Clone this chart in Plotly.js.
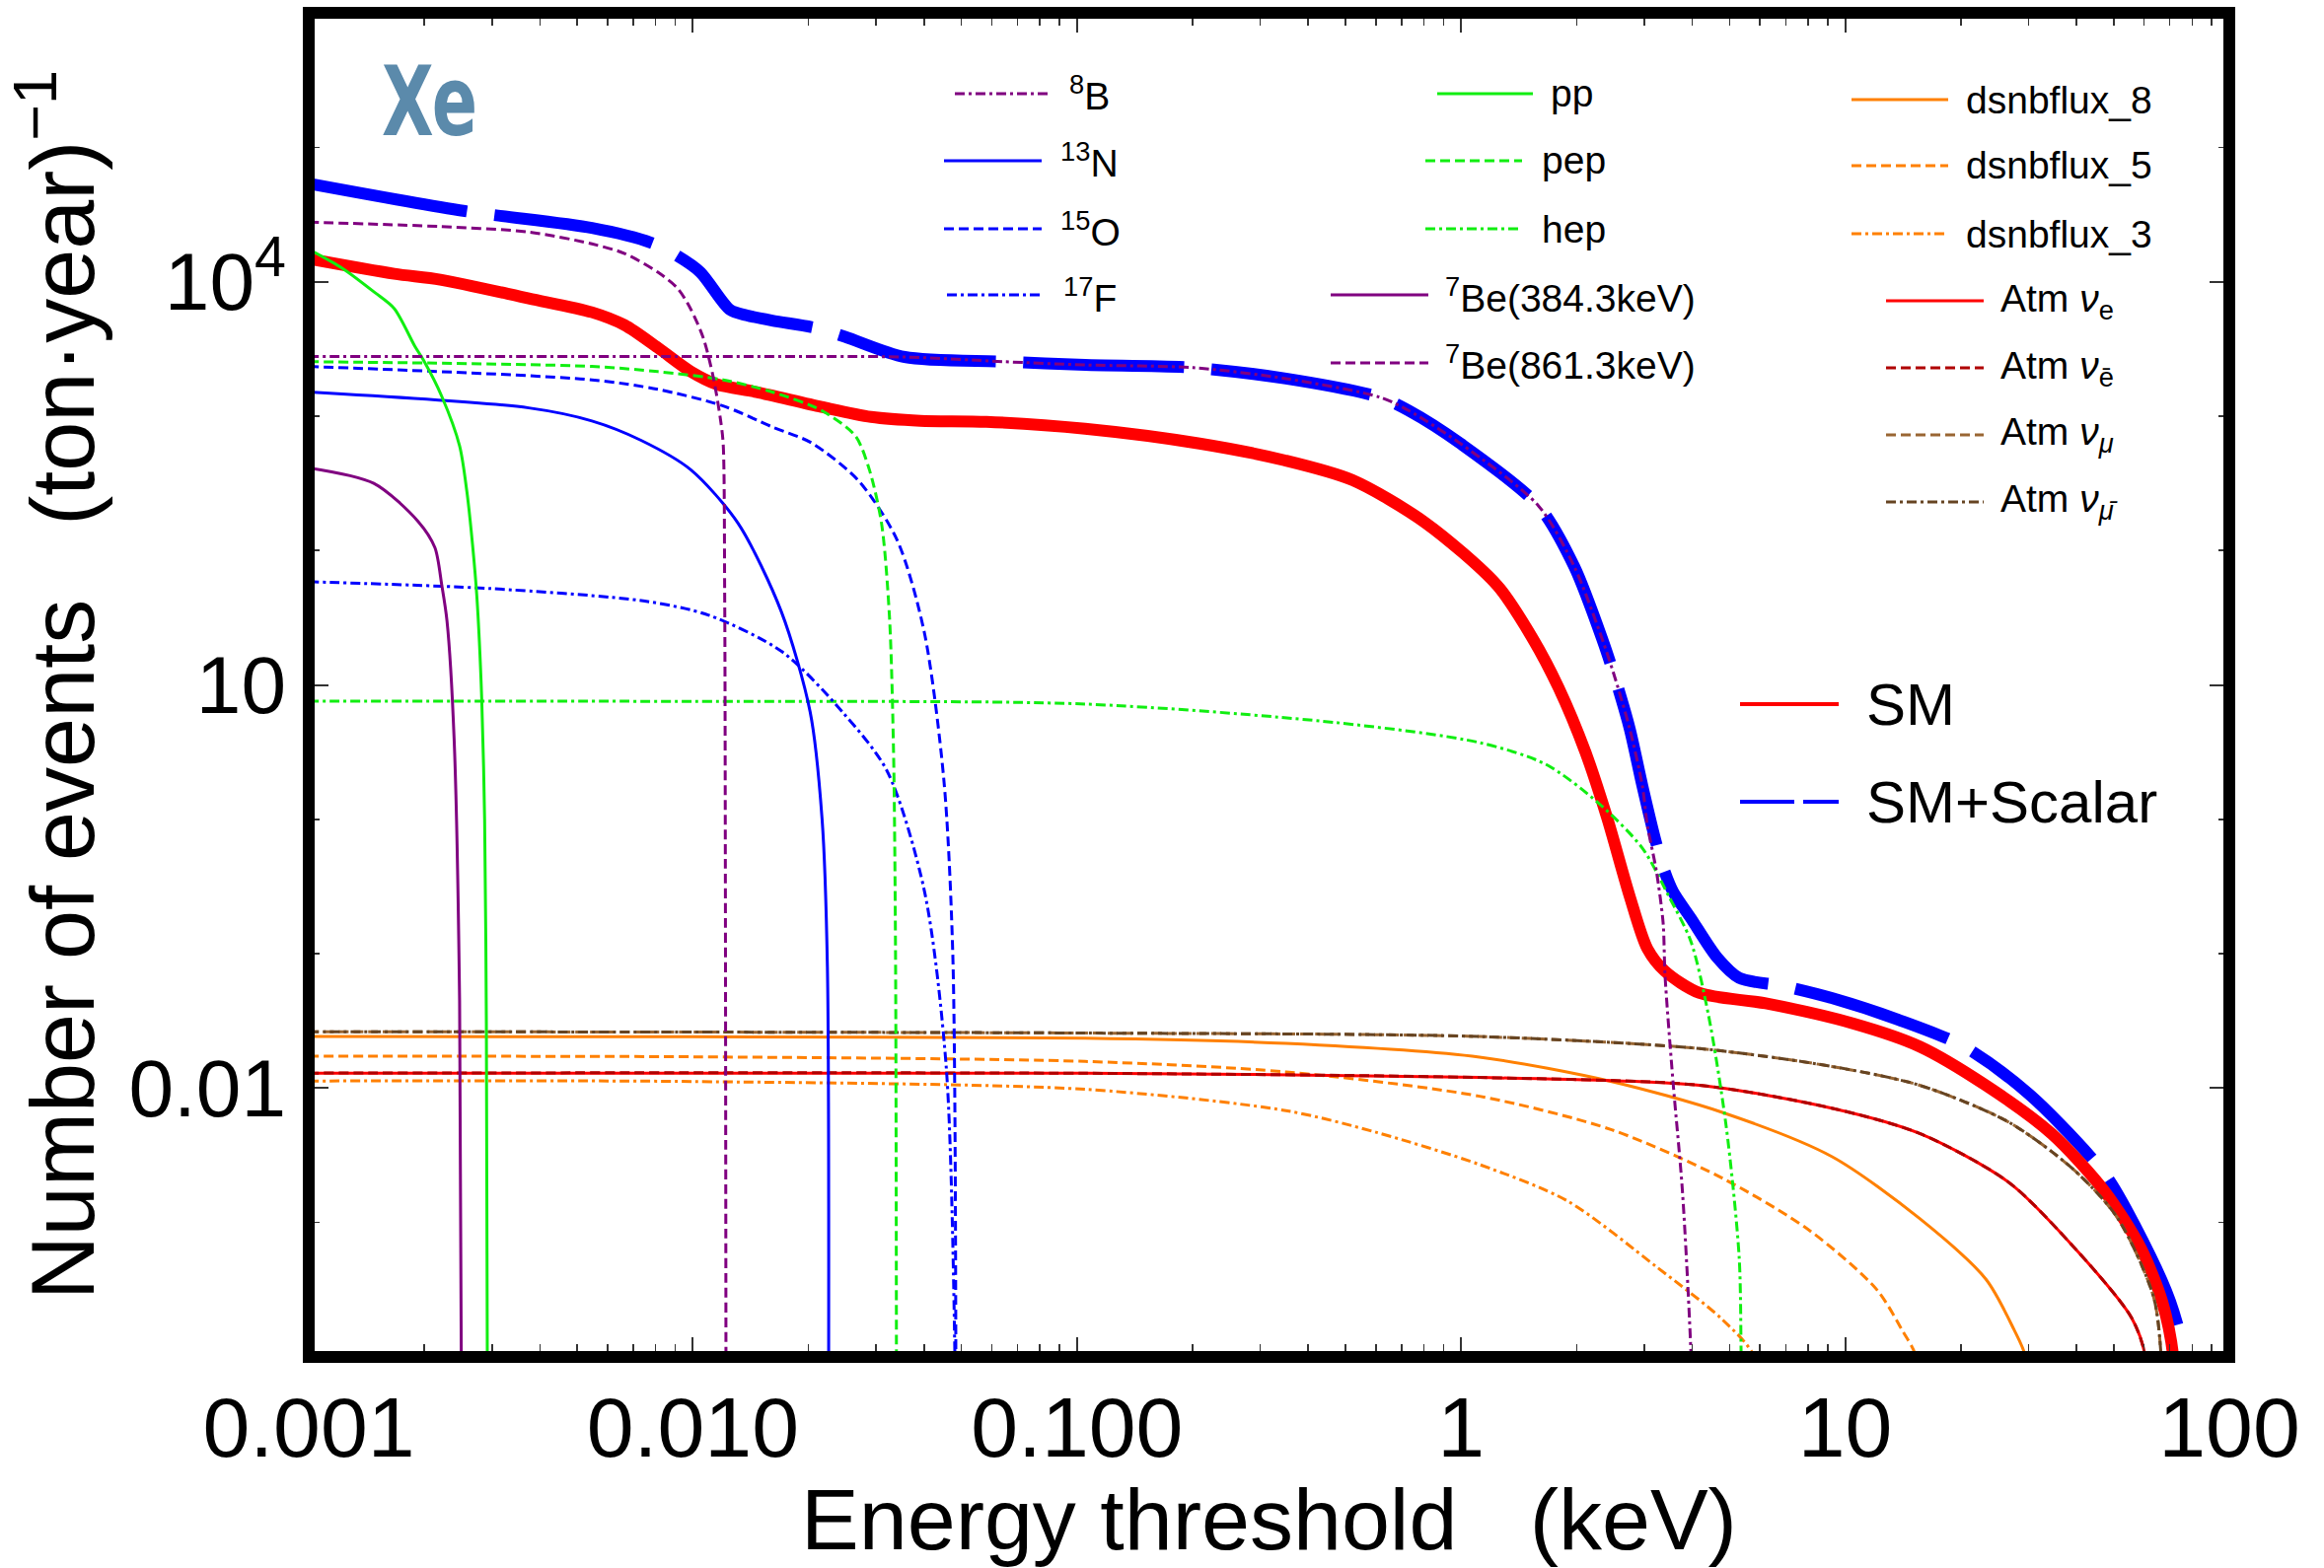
<!DOCTYPE html>
<html><head><meta charset="utf-8">
<script src="https://cdn.plot.ly/plotly-3.0.1.min.js"></script>
<style>html,body{margin:0;padding:0;background:#fff;}</style>
</head><body>
<div id="chart" style="width:2356px;height:1590px;"></div>
<script>
// ---------------- data (energy threshold keV, events per ton-year) ----------------
const E_SM  = [0.001,0.00167,0.0022,0.00374,0.00546,0.00664,0.00811,0.00986,0.01156,0.01466,0.02163,0.0291,0.0391,0.0581,0.105,0.2084,0.3467,0.521,0.807,1.242,1.538,1.795,2.104,2.399,2.748,3.055,3.396,4.178,6.209,10.52,15.63,23.23,34.51,47.42,58.75,66.83,71.5,72.5];
const N_SM  = [14800,11450,10350,7500,5920,4750,3220,2150,1720,1510,1170,986,923,906,805,625,469,334,161,55,22,9.5,3.2,1.03,0.267,0.109,0.074,0.051,0.0427,0.0302,0.0204,0.0105,0.00457,0.0017,0.00065,0.00026,0.0001,0.00003];

const E_SS  = [0.001,0.00255,0.00546,0.00778,0.00913,0.01046,0.0125,0.0138,0.0161,0.0209,0.0249,0.0356,0.0643,0.105,0.201,0.35,0.615,0.73,1.0,1.592,1.97,2.34,2.528,2.748,2.965,3.221,3.376,3.562,3.963,4.645,5.297,6.902,9.226,13.71,20.37,30.27,47.4,57.0,70.1,76.5,77.5];
const N_SS  = [53700,33500,25100,19500,15500,11750,6170,5620,5130,4520,3890,2750,2540,2400,2290,1900,1380,1100,620,214,76,21.2,10.8,4.72,1.77,0.664,0.42,0.29,0.184,0.0933,0.066,0.0575,0.0468,0.0324,0.0204,0.0089,0.0023,0.00093,0.00026,0.0001,0.00003];

const E_B8  = [0.001,0.01,0.0356,0.0643,0.105,0.201,0.35,0.615,0.73,1.0,1.592,1.97,2.34,2.528,2.748,2.965,3.055,3.221,3.357,3.396,3.562,3.77,3.97,4.0];
const N_B8  = [2780,2770,2750,2540,2400,2290,1900,1380,1100,620,214,76,21.2,10.8,4.72,1.77,0.9,0.42,0.17,0.069,0.0112,0.0017,0.0001,0.00003];

const E_N13 = [0.001,0.00374,0.00546,0.00733,0.00986,0.0131,0.017,0.0202,0.0217,0.0224,0.02256];
const N_N13 = [1510,1150,920,660,400,160,35,6.3,1.0,0.08,0.00003];

const E_O15 = [0.001,0.00546,0.00811,0.01199,0.0161,0.0204,0.027,0.034,0.04,0.045,0.0475,0.0484];
const N_O15 = [2340,1860,1580,1190,830,630,330,120,25,2,0.1,0.00003];

const E_F17 = [0.001,0.003,0.0075,0.011,0.0171,0.0245,0.032,0.04,0.0457,0.0484];
const N_F17 = [58.6,52,42,33,17.6,6.3,2.3,0.3,0.014,0.00003];

const E_PP  = [0.001,0.001222,0.001486,0.00167,0.00189,0.00199,0.00222,0.00247,0.00258,0.00267,0.00274,0.00282,0.00287,0.0029,0.00292];
const N_PP  = [17400,12600,8300,6300,3300,2600,1400,600,275,110,45,8,1,0.03,0.00003];

const E_PEP = [0.001,0.00546,0.00811,0.01199,0.0161,0.02163,0.0265,0.0288,0.031,0.0325,0.0333,0.0337,0.0339];
const N_PEP = [2540,2340,2140,1860,1510,1100,710,400,158,32,3.2,0.1,0.00003];

const E_HEP = [0.001,0.01,0.105,0.47,1.117,1.66,2.286,2.965,3.475,3.963,4.406,4.9,5.297,5.36,5.4];
const N_HEP = [7.57,7.53,7.2,5.25,3.72,2.57,1.31,0.61,0.267,0.124,0.035,0.0052,0.00055,0.0001,0.00003];

const E_BE384 = [0.001,0.001477,0.001928,0.00213,0.00222,0.00229,0.00239,0.00247,0.0025];
const N_BE384 = [412,316,164,105,55,30,4.0,0.045,0.00003];

const E_BE861 = [0.001,0.0022,0.00374,0.00546,0.00664,0.00811,0.00913,0.00986,0.01065,0.0113,0.01178,0.01199,0.0121,0.01215,0.0122];
const N_BE861 = [27700,25700,23400,19100,16200,11750,8900,6300,3800,1950,977,630,50,0.5,0.00003];

const E_DSNB8 = [0.001,0.01,0.105,0.35,1.117,2.466,4.786,9.226,15.63,23.23,27.5,29.5,30.3];
const N_DSNB8 = [0.0242,0.0241,0.0235,0.0215,0.017,0.0112,0.0066,0.0031,0.00107,0.00038,0.00016,0.0001,0.00003];

const E_DSNB5 = [0.001,0.01,0.105,0.35,1.117,2.466,4.786,8.09,12.05,14.13,15.3,15.6];
const N_DSNB5 = [0.01726,0.0171,0.0158,0.0132,0.0087,0.0049,0.00214,0.00087,0.00032,0.000155,0.0001,0.00003];

const E_DSNB3 = [0.001,0.01,0.105,0.35,0.6,1.117,1.89,3.221,4.786,5.8,5.9];
const N_DSNB3 = [0.0113,0.0112,0.0098,0.0068,0.0047,0.0027,0.00145,0.00047,0.00019,0.0001,0.00003];

const E_ATM_E    = [0.001,0.105,1.117,4.178,9.226,15.63,26.6,39.5,55.7,60.5,61.2];
const N_ATM_E    = [0.01294,0.0129,0.0120,0.0105,0.0071,0.0046,0.002,0.00065,0.000195,0.0001,0.00003];
const E_ATM_EBAR = [0.001,0.105,1.117,4.178,9.226,15.63,26.6,39.5,55.7,60.5,61.2];
const N_ATM_EBAR = [0.01294,0.0129,0.0120,0.0105,0.0071,0.0046,0.002,0.00065,0.000195,0.0001,0.00003];
const E_ATM_MU    = [0.001,0.105,1.117,4.178,9.226,15.63,26.6,39.5,51.3,63.5,66.5,67.5];
const N_ATM_MU    = [0.0263,0.0257,0.0242,0.0197,0.0145,0.0105,0.0056,0.00245,0.00107,0.00028,0.0001,0.00003];
const E_ATM_MUBAR = [0.001,0.105,1.117,4.178,9.226,15.63,26.6,39.5,51.3,63.5,66.5,67.5];
const N_ATM_MUBAR = [0.0263,0.0257,0.0242,0.0197,0.0145,0.0105,0.0056,0.00245,0.00107,0.00028,0.0001,0.00003];

const X_TICK_VALS = [0.001,0.01,0.1,1,10,100];
const X_TICK_TEXT = ['0.001','0.010','0.100','1','10','100'];
const Y_TICK_VALS = [0.01,10,1e4];
const Y_TICK_TEXT = ['0.01','10','10<sup>4</sup>'];
const Y_MINOR_VALS = [0.001,0.1,1,100,1000,1e5];

// ---------------- styles ----------------
const PURPLE='#800080', BLUE='#0000ff', GREEN='#11ee11', ORANGE='#ff8000',
      RED='#ff0000', DKRED='#b00000', BROWN='#996633', DKBROWN='#664422';
const SOLID='solid', DASH='10px,5px', DASHDOT='10px,4px,3px,4px', LONG='163px,28px';
const FONT='Liberation Sans, Arial, Helvetica, sans-serif';

function thin(name, x, y, color, dash){
  return {type:'scatter', mode:'lines', name:name, x:x, y:y, showlegend:false,
          line:{color:color, width:3, dash:dash, shape:'spline', smoothing:0.8}, hoverinfo:'name+x+y'};
}

const traces = [
  {type:'scatter', mode:'lines', name:'SM+Scalar', x:E_SS, y:N_SS, showlegend:false, line:{color:BLUE, width:12, dash:LONG, shape:'spline', smoothing:0.8}},
  {type:'scatter', mode:'lines', name:'SM', x:E_SM, y:N_SM, showlegend:false, line:{color:RED, width:12, shape:'spline', smoothing:0.8}},
  thin('dsnbflux_8', E_DSNB8, N_DSNB8, ORANGE, SOLID),
  thin('dsnbflux_5', E_DSNB5, N_DSNB5, ORANGE, DASH),
  thin('dsnbflux_3', E_DSNB3, N_DSNB3, ORANGE, DASHDOT),
  thin('Atm νe', E_ATM_E, N_ATM_E, RED, SOLID),
  thin('Atm νē', E_ATM_EBAR, N_ATM_EBAR, DKRED, DASH),
  thin('Atm νμ', E_ATM_MU, N_ATM_MU, BROWN, DASH),
  thin('Atm νμ̄', E_ATM_MUBAR, N_ATM_MUBAR, DKBROWN, DASHDOT),
  thin('hep', E_HEP, N_HEP, GREEN, DASHDOT),
  thin('17F', E_F17, N_F17, BLUE, DASHDOT),
  thin('13N', E_N13, N_N13, BLUE, SOLID),
  thin('15O', E_O15, N_O15, BLUE, DASH),
  thin('pep', E_PEP, N_PEP, GREEN, DASH),
  thin('pp', E_PP, N_PP, GREEN, SOLID),
  thin('7Be(384.3keV)', E_BE384, N_BE384, PURPLE, SOLID),
  thin('7Be(861.3keV)', E_BE861, N_BE861, PURPLE, DASH),
  thin('8B', E_B8, N_B8, PURPLE, DASHDOT)
];

// ---------------- geometry (pixels of the page) ----------------
const PL=313, PR=2260, PT=13, PB=1376;
const px = v => (v-PL)/(PR-PL);
const py = v => (PB-v)/(PB-PT);

// legend entries: [label, color, dash, width, lineX0, lineX1, lineY, textX, fontSize]
const LEGEND = [
  ['<sup>8</sup>B', PURPLE, DASHDOT, 3, 968, 1066, 95, 1082, 39],
  ['<sup>13</sup>N', BLUE, SOLID, 3, 957, 1056, 163, 1073, 39],
  ['<sup>15</sup>O', BLUE, DASH, 3, 957, 1056, 232, 1073, 39],
  ['<sup>17</sup>F', BLUE, DASHDOT, 3, 960, 1058, 299, 1076, 39],
  ['pp', GREEN, SOLID, 3, 1457, 1554, 95, 1570, 39],
  ['pep', GREEN, DASH, 3, 1445, 1543, 163, 1561, 39],
  ['hep', GREEN, DASHDOT, 3, 1445, 1543, 232, 1561, 39],
  ['<sup>7</sup>Be(384.3keV)', PURPLE, SOLID, 3, 1349, 1448, 299, 1463, 39],
  ['<sup>7</sup>Be(861.3keV)', PURPLE, DASH, 3, 1349, 1448, 368, 1463, 39],
  ['dsnbflux_8', ORANGE, SOLID, 3, 1877, 1975, 101, 1991, 39],
  ['dsnbflux_5', ORANGE, DASH, 3, 1877, 1975, 168, 1991, 39],
  ['dsnbflux_3', ORANGE, DASHDOT, 3, 1877, 1975, 237, 1991, 39],
  ['Atm <i>ν</i><sub>e</sub>', RED, SOLID, 3, 1912, 2011, 305, 2026, 39],
  ['Atm <i>ν</i><sub>ē</sub>', DKRED, DASH, 3, 1912, 2011, 373, 2026, 39],
  ['Atm <i>ν</i><sub><i>μ</i></sub>', BROWN, DASH, 3, 1912, 2011, 441, 2026, 39],
  ['Atm <i>ν</i><sub><i>μ̄</i></sub>', DKBROWN, DASHDOT, 3, 1912, 2011, 509, 2026, 39],
  ['SM', RED, SOLID, 4, 1764, 1864, 714, 1890, 60],
  ['SM+Scalar', BLUE, '55px,9px', 4, 1764, 1864, 813, 1890, 60]
];

const shapes = [];
const annotations = [];
LEGEND.forEach(l => {
  shapes.push({type:'line', xref:'paper', yref:'paper', x0:px(l[4]), x1:px(l[5]), y0:py(l[6]), y1:py(l[6]),
               line:{color:l[1], width:l[3], dash:l[2]}, layer:'above'});
  annotations.push({xref:'paper', yref:'paper', x:px(l[7]), y:py(l[6]), xanchor:'left', yanchor:'middle',
                    text:l[0], showarrow:false, font:{family:FONT, size:l[8], color:'black'}});
});
annotations.push({xref:'paper', yref:'paper', x:px(435), y:py(103), xanchor:'center', yanchor:'middle',
  text:'<b>Xe</b>', showarrow:false,
  font:{family:'Liberation Sans Narrow, DejaVu Sans Condensed, Liberation Sans, sans-serif', size:98, color:'#5b8aab'}});
// frame
shapes.push({type:'rect', xref:'paper', yref:'paper', x0:0, x1:1, y0:0, y1:1,
             line:{color:'black', width:12}, fillcolor:'rgba(0,0,0,0)', layer:'above'});

const xMinor = [];
for (let d=-3; d<2; d++) for (let k=2; k<10; k++) xMinor.push(k*Math.pow(10,d));

const layout = {
  width:2356, height:1590,
  margin:{l:PL, r:2356-PR, t:PT, b:1590-PB, pad:0},
  paper_bgcolor:'white', plot_bgcolor:'white',
  showlegend:false,
  font:{family:FONT, color:'black'},
  xaxis:{
    type:'log', range:[-3,2], showline:false, mirror:'allticks', zeroline:false, showgrid:false,
    ticks:'inside', ticklen:20, tickwidth:2, tickcolor:'#333',
    tickmode:'array', tickvals:X_TICK_VALS, ticktext:X_TICK_TEXT,
    minor:{ticks:'inside', ticklen:13, tickwidth:1.5, tickcolor:'#333', tickvals:xMinor, showgrid:false},
    tickfont:{family:FONT, size:86, color:'black'}, ticklabelstandoff:14,
    title:{text:'Energy threshold\u00a0\u00a0\u00a0(keV)', font:{family:FONT, size:88, color:'black'}, standoff:30}
  },
  yaxis:{
    type:'log', range:[-4,6], showline:false, mirror:'allticks', zeroline:false, showgrid:false,
    ticks:'inside', ticklen:20, tickwidth:2, tickcolor:'#333',
    tickmode:'array', tickvals:Y_TICK_VALS, ticktext:Y_TICK_TEXT,
    minor:{ticks:'inside', ticklen:11, tickwidth:1.5, tickcolor:'#333', tickvals:Y_MINOR_VALS, showgrid:false},
    tickfont:{family:FONT, size:82, color:'black'}, ticklabelstandoff:22,
    title:{text:'Number of events\u00a0\u00a0\u00a0(ton\u00b7year)<sup>\u22121</sup>', font:{family:FONT, size:90, color:'black'}, standoff:20}
  },
  shapes:shapes,
  annotations:annotations
};

Plotly.newPlot('chart', traces, layout, {staticPlot:true, displayModeBar:false}).then(gd => {
  // condense the "Xe" label horizontally (the original uses a narrow bold face)
  gd.querySelectorAll('.annotation-text').forEach(t => {
    if (t.textContent === 'Xe') {
      const bb = t.getBBox();
      const cx = bb.x + bb.width / 2;
      const prev = t.getAttribute('transform') || '';
      t.setAttribute('transform', prev + ' translate(' + cx + ',0) scale(0.775,1) translate(' + (-cx) + ',0)');
    }
  });
});
</script>
</body></html>
